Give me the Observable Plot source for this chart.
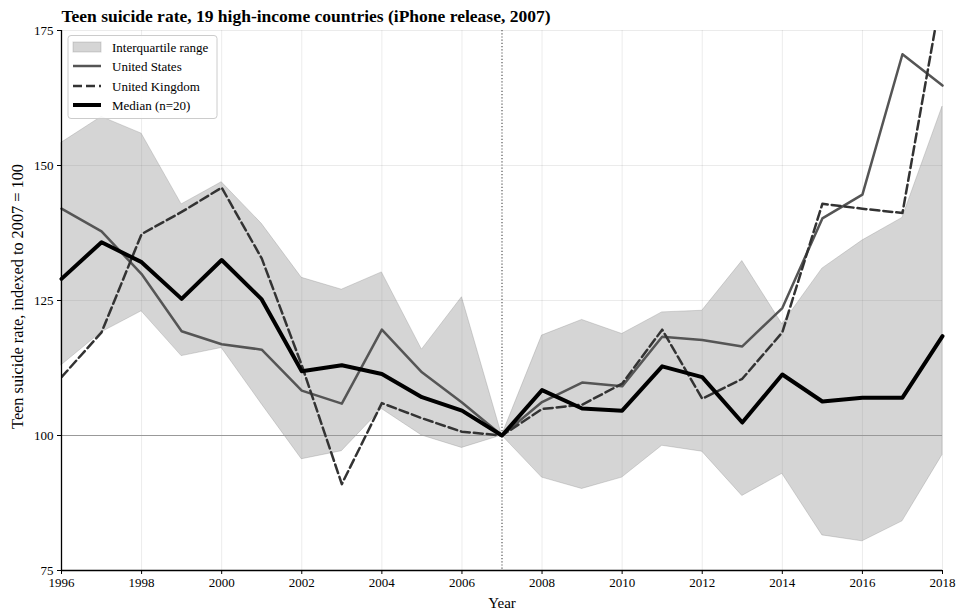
<!DOCTYPE html>
<html>
<head>
<meta charset="utf-8">
<script src="https://cdn.jsdelivr.net/npm/d3@7"></script>
<script src="https://cdn.jsdelivr.net/npm/@observablehq/plot@0.6"></script>
<style>
  html, body { margin: 0; padding: 0; background: #fff; }
  #chart { width: 956px; height: 611px; }
</style>
</head>
<body>
<div id="chart"></div>
<script>
// Teen suicide rate indexed to 2007 = 100
const years = [1996, 1997, 1998, 1999, 2000, 2001, 2002, 2003, 2004, 2005, 2006, 2007,
               2008, 2009, 2010, 2011, 2012, 2013, 2014, 2015, 2016, 2017, 2018];
const iqrLow = [113.0, 119.1, 123.0, 114.7, 116.2, 105.8, 95.6, 97.1, 104.9, 100.0, 97.7, 100,
                92.2, 90.1, 92.2, 98.1, 97.0, 88.8, 92.9, 81.5, 80.4, 84.1, 96.4];
const iqrHigh = [154.2, 159.0, 155.9, 142.8, 146.9, 139.2, 129.2, 127.0, 130.2, 115.9, 125.6, 100,
                 118.5, 121.4, 118.8, 122.8, 123.1, 132.3, 120.6, 130.9, 136.1, 140.3, 160.9];
const unitedStates = [142.0, 137.8, 129.9, 119.3, 116.9, 115.9, 108.3, 105.9, 119.6, 111.7, 106.1, 100,
                      106.2, 109.8, 109.1, 118.3, 117.7, 116.5, 123.6, 140.2, 144.6, 170.6, 164.8];
const unitedKingdom = [110.8, 119.1, 137.3, 141.4, 145.9, 132.8, 113.0, 91.0, 106.0, 103.2, 100.7, 100,
                       104.9, 105.7, 109.6, 119.6, 106.8, 110.5, 119.1, 142.9, 142.0, 141.2, 183.0];
const median = [129.0, 135.8, 132.1, 125.3, 132.5, 125.2, 111.9, 113.0, 111.4, 107.1, 104.6, 100,
                108.4, 105.0, 104.6, 112.8, 110.8, 102.4, 111.3, 106.3, 107.0, 107.0, 118.4];

const xTicks = [1996, 1998, 2000, 2002, 2004, 2006, 2008, 2010, 2012, 2014, 2016, 2018];
const yTicks = [75, 100, 125, 150, 175];
const baseline = 100;
const releaseYear = 2007;

const title = "Teen suicide rate, 19 high-income countries (iPhone release, 2007)";
const xLabel = "Year";
const yLabel = "Teen suicide rate, indexed to 2007 = 100";
const legendLabels = ["Interquartile range", "United States", "United Kingdom", "Median (n=20)"];

const serif = "'Liberation Serif', 'Times New Roman', serif";

const chart = Plot.plot({
  width: 956,
  height: 611,
  marginTop: 30,
  marginRight: 14,
  marginBottom: 41,
  marginLeft: 61,
  style: {fontFamily: serif, fontSize: "13px", color: "#000", background: "#fff", overflow: "visible"},
  x: {domain: [1996, 2018]},
  y: {domain: [75, 175]},
  marks: [
    Plot.gridX(xTicks, {stroke: "#000", strokeOpacity: 0.08}),
    Plot.gridY(yTicks, {stroke: "#000", strokeOpacity: 0.08}),
    Plot.areaY(years, {x: years, y1: iqrLow, y2: iqrHigh,
      fill: "#808080", fillOpacity: 0.33, stroke: "#808080", strokeOpacity: 0.3, strokeWidth: 1}),
    Plot.ruleY([baseline], {stroke: "#999", strokeWidth: 1}),
    Plot.ruleX([releaseYear], {stroke: "#555", strokeWidth: 1.2, strokeDasharray: "1.2,2"}),
    Plot.line(years, {x: years, y: unitedStates, stroke: "#555", strokeWidth: 2.5}),
    Plot.line(years, {x: years, y: unitedKingdom, stroke: "#333", strokeWidth: 2.5,
      strokeDasharray: "9,4", clip: true}),
    Plot.line(years, {x: years, y: median, stroke: "#000", strokeWidth: 4}),
    Plot.ruleX([1996], {stroke: "#000", strokeWidth: 1.3}),
    Plot.ruleY([75], {stroke: "#000", strokeWidth: 1.3}),
    Plot.axisX(xTicks, {tickSize: 4, tickPadding: 3, tickFormat: d => String(d), label: null, fontSize: 13}),
    Plot.axisY(yTicks, {tickSize: 4, tickPadding: 4, tickFormat: d => String(d), label: null, fontSize: 13}),
    Plot.text([xLabel], {text: d => d, frameAnchor: "bottom", lineAnchor: "middle", dy: 33, fontSize: 15}),
    Plot.text([yLabel], {text: d => d, frameAnchor: "left", dx: -44, dy: -4, rotate: -90,
      textAnchor: "middle", lineAnchor: "middle", fontSize: 16.3}),
    Plot.text([title], {text: d => d, frameAnchor: "top-left", lineAnchor: "middle", dy: -14.5,
      textAnchor: "start", fontSize: 17.5, fontWeight: "bold"})
  ]
});

// Legend box in the upper-left corner of the frame
const svg = d3.select(chart);
const legend = svg.append("g")
  .attr("font-family", serif).attr("font-size", 13).attr("text-anchor", "start");
legend.append("rect")
  .attr("x", 68).attr("y", 35.5).attr("width", 149).attr("height", 83).attr("rx", 3)
  .attr("fill", "#fff").attr("fill-opacity", 0.85).attr("stroke", "#ccc");
const rowY = [47, 66, 86, 105];
legend.append("rect")
  .attr("x", 73).attr("y", 42).attr("width", 28).attr("height", 10)
  .attr("fill", "#808080").attr("fill-opacity", 0.33)
  .attr("stroke", "#808080").attr("stroke-opacity", 0.3);
const swatchStyles = [
  null,
  {stroke: "#555", width: 2.5, dash: null},
  {stroke: "#333", width: 2.5, dash: "9,4"},
  {stroke: "#000", width: 4, dash: null}
];
swatchStyles.forEach((s, i) => {
  if (!s) return;
  legend.append("line")
    .attr("x1", 73).attr("x2", 101).attr("y1", rowY[i]).attr("y2", rowY[i])
    .attr("stroke", s.stroke).attr("stroke-width", s.width)
    .attr("stroke-dasharray", s.dash);
});
legendLabels.forEach((label, i) => {
  legend.append("text")
    .attr("x", 112).attr("y", rowY[i]).attr("dy", "0.35em")
    .attr("fill", "#000").text(label);
});

document.getElementById("chart").appendChild(chart);
</script>
</body>
</html>
